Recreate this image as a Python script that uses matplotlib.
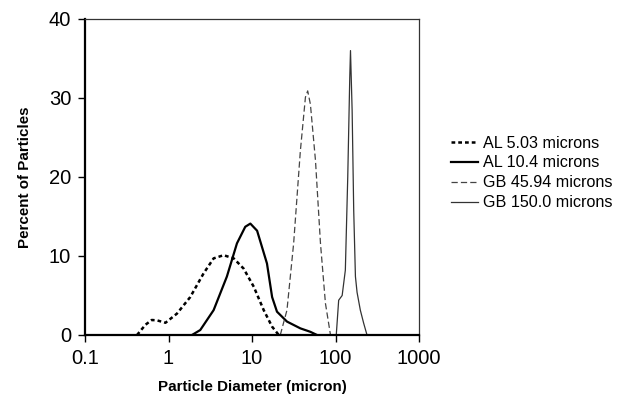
import matplotlib
matplotlib.use('Agg')
import matplotlib.pyplot as plt

plt.rcParams['font.family'] = ['Liberation Sans', 'DejaVu Sans']

# AL 5.03 microns (dotted)
al5_x = [0.42, 0.53, 0.63, 0.73, 0.92, 1.26, 1.82, 2.63, 3.47, 4.57, 6.03, 7.94, 10.5, 13.8, 17.4, 20.9]
al5_y = [0.0, 1.3, 1.9, 1.85, 1.55, 2.7, 4.8, 7.8, 9.7, 10.1, 9.7, 8.4, 6.1, 3.15, 1.05, 0.0]

# AL 10.4 microns (solid, heavy)
al10_x = [1.91, 2.40, 3.47, 5.0, 6.6, 8.3, 9.55, 11.5, 15.1, 17.4, 19.9, 26.2, 37.9, 47.0, 50.0, 60.0]
al10_y = [0.0, 0.63, 3.15, 7.4, 11.6, 13.7, 14.1, 13.2, 9.05, 4.8, 2.95, 1.7, 0.84, 0.5, 0.4, 0.0]

# GB 45.94 microns (dashed, grey)
gb46_x = [21.8, 26.2, 31.5, 37.9, 43.6, 46.4, 50.0, 57.5, 66.0, 75.7, 87.0]
gb46_y = [0.0, 3.15, 11.6, 23.3, 30.1, 30.9, 29.2, 22.1, 11.6, 4.0, 0.0]

# GB 150.0 microns (thin solid, grey)
gb150_x = [102, 109, 120, 131, 140, 148, 151, 158, 165, 173, 181, 198, 217, 238]
gb150_y = [0.0, 4.4, 5.0, 8.2, 20.0, 32.6, 36.0, 28.4, 15.8, 7.4, 5.4, 3.15, 1.5, 0.0]

labels = ['AL 5.03 microns', 'AL 10.4 microns', 'GB 45.94 microns', 'GB 150.0 microns']

fig = plt.figure(figsize=(6.19, 4.04), dpi=100)
ax = fig.add_axes([0.1373, 0.1708, 0.5397, 0.7822])

ax.plot(al5_x, al5_y, color='black', lw=1.8, linestyle=(0, (1.5, 1.2)), label=labels[0])
ax.plot(al10_x, al10_y, color='black', lw=1.6, label=labels[1])
ax.plot(gb46_x, gb46_y, color='#444444', lw=0.9, linestyle=(0, (5, 2.5)), label=labels[2])
ax.plot(gb150_x, gb150_y, color='#333333', lw=0.9, label=labels[3])

ax.set_xscale('log')
ax.set_xlim(0.1, 1000)
ax.set_ylim(0, 40)
ax.set_xticks([0.1, 1, 10, 100, 1000])
ax.set_xticklabels(['0.1', '1', '10', '100', '1000'])
ax.set_yticks([0, 10, 20, 30, 40])
ax.minorticks_off()
ax.tick_params(axis='both', labelsize=14.5, length=5, width=1, direction='out', pad=5)

for side in ['left', 'bottom']:
    ax.spines[side].set_linewidth(1.6)
for side in ['top', 'right']:
    ax.spines[side].set_linewidth(0.9)
    ax.spines[side].set_color('#333333')

ax.set_xlabel('Particle Diameter (micron)', fontsize=10.9, fontweight='bold', labelpad=9)
ax.set_ylabel('Percent of Particles', fontsize=10.9, fontweight='bold', labelpad=12)

fig.legend(loc='center left', bbox_to_anchor=(0.705, 0.572), frameon=False,
           fontsize=11.6, handlelength=1.7, handletextpad=0.3, labelspacing=0.3)

fig.savefig('out.png', dpi=100)
